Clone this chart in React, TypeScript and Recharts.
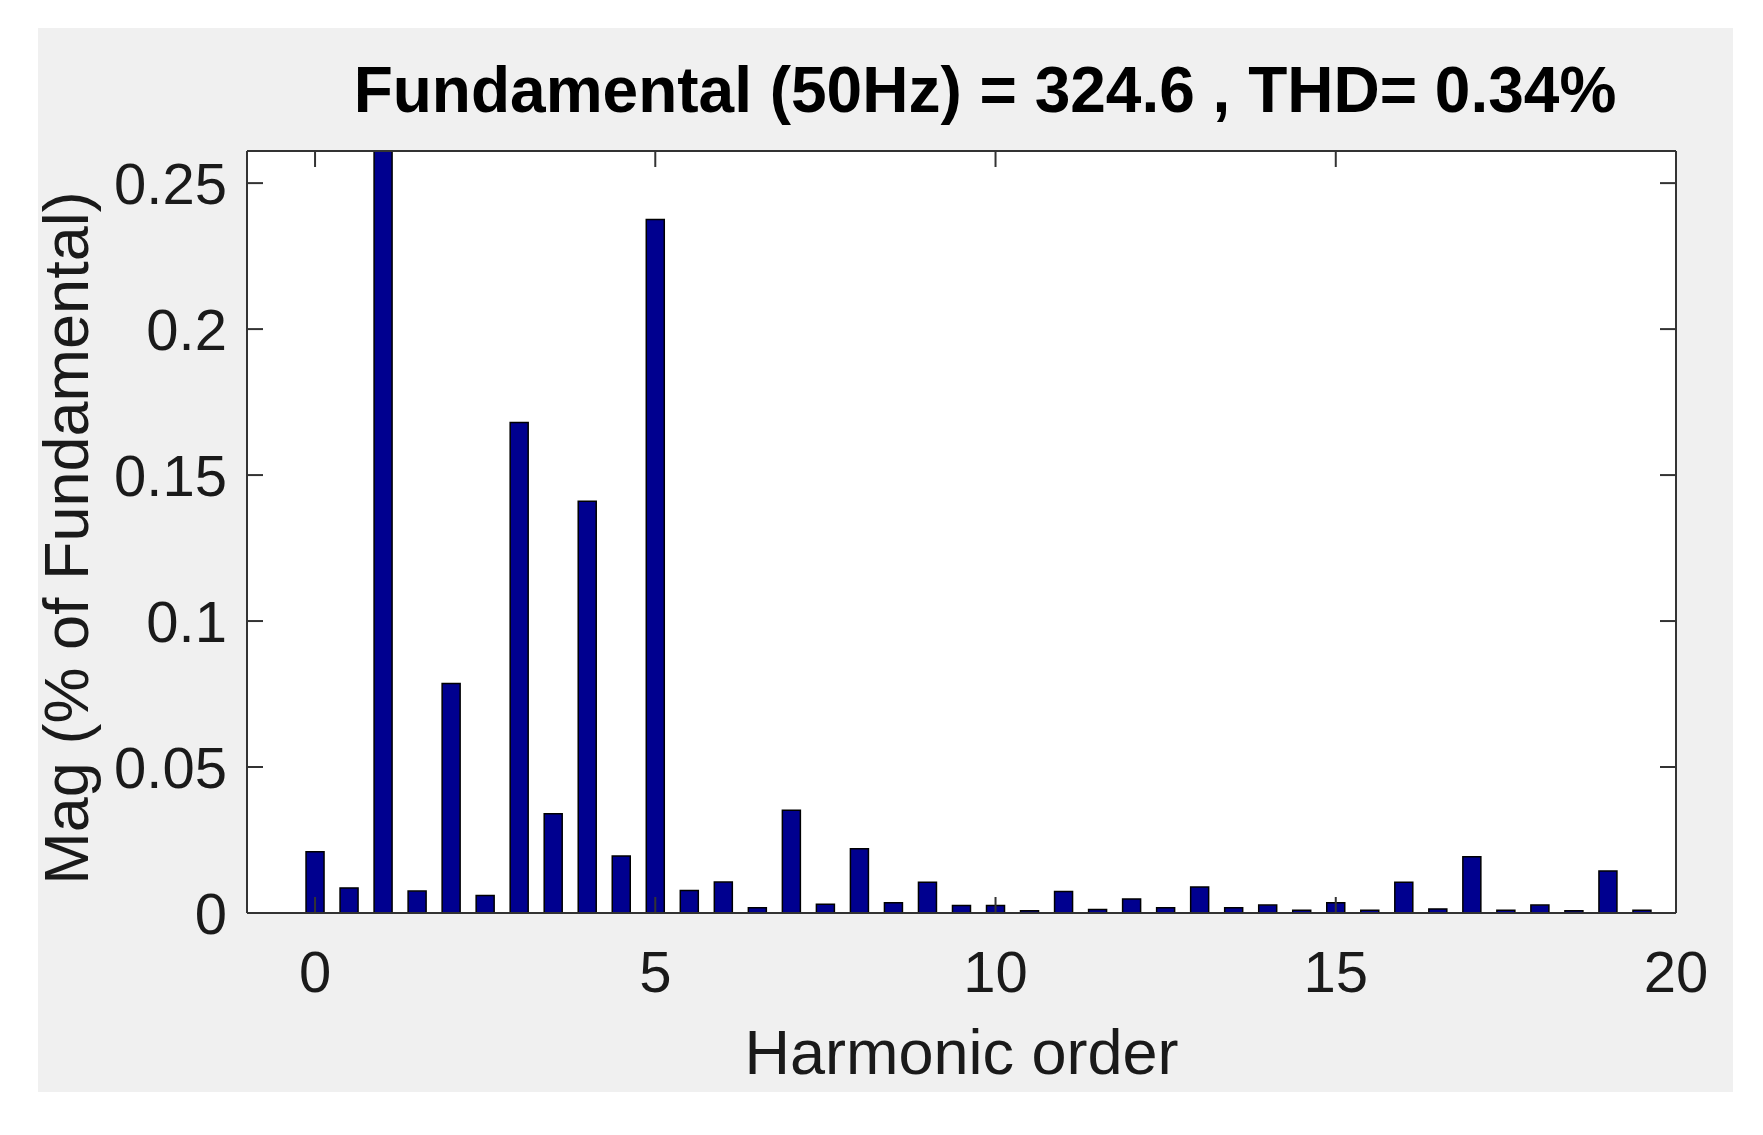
import { Bar, BarChart, CartesianGrid, XAxis, YAxis } from "recharts";

const harmonicOrder = [
  0, 0.5, 1, 1.5, 2, 2.5, 3, 3.5, 4, 4.5, 5, 5.5, 6, 6.5, 7, 7.5, 8, 8.5, 9, 9.5,
  10, 10.5, 11, 11.5, 12, 12.5, 13, 13.5, 14, 14.5, 15, 15.5, 16, 16.5, 17, 17.5,
  18, 18.5, 19, 19.5,
];

// % of fundamental; the fundamental itself (order 1) runs off the top of the axes
const magnitude = [
  0.021, 0.0086, 100, 0.0075, 0.0786, 0.006, 0.168, 0.034, 0.141, 0.0195,
  0.2375, 0.0077, 0.0106, 0.0018, 0.0352, 0.003, 0.022, 0.0035, 0.0105, 0.0026,
  0.0026, 0.0008, 0.0074, 0.0012, 0.0048, 0.0018, 0.0089, 0.0018, 0.0027, 0.0009,
  0.0035, 0.0009, 0.0105, 0.0014, 0.0193, 0.0009, 0.0027, 0.0008, 0.0144, 0.0009,
];

const xTicks = [0, 5, 10, 15, 20];
const yTicks = [0, 0.05, 0.1, 0.15, 0.2, 0.25];

const fundamentalHz = 50;
const fundamentalMag = 324.6;
const thd = 0.34;

const data = harmonicOrder.map((h, i) => ({ h, mag: magnitude[i] }));

const FONT = "'Liberation Sans', Arial, Helvetica, sans-serif";
const TEXT = "#1a1a1a";
const AXIS = "#333333";

const tickStyle = { fontSize: 58, fill: TEXT, fontFamily: FONT };

export default function App() {
  return (
    <div style={{ position: "relative", width: 1747, height: 1119, background: "#fff" }}>
      <div
        style={{
          position: "absolute",
          left: 30,
          top: 20,
          width: 1695,
          height: 1064,
          background: "#f0f0f0",
        }}
      />
      <svg
        width={1747}
        height={1119}
        style={{ position: "absolute", left: 0, top: 0, pointerEvents: "none" }}
      >
        <text
          x={977}
          y={104}
          textAnchor="middle"
          fontSize={64}
          fontWeight="bold"
          fontFamily={FONT}
          fill="#000"
        >
          {`Fundamental (${fundamentalHz}Hz) = ${fundamentalMag} , THD= ${thd}%`}
        </text>
      </svg>
      <div style={{ position: "absolute", left: 0, top: 0 }}>
        <BarChart
          width={1747}
          height={1119}
          data={data}
          margin={{ top: 142, right: 78, bottom: 114, left: 139 }}
        >
          <CartesianGrid horizontal={false} vertical={false} fill="#ffffff" />
          <XAxis
            dataKey="h"
            type="number"
            domain={[-1, 20]}
            ticks={xTicks}
            interval={0}
            allowDataOverflow
            height={100}
            tickSize={-16}
            tickMargin={54}
            tick={tickStyle}
            stroke={AXIS}
            strokeWidth={2}
            label={{
              content: ({ viewBox }: any) => (
                <text
                  x={viewBox.x + viewBox.width / 2}
                  y={1066}
                  textAnchor="middle"
                  fontSize={63}
                  fontFamily={FONT}
                  fill={TEXT}
                >
                  Harmonic order
                </text>
              ),
            }}
          />
          <XAxis
            xAxisId="top"
            dataKey="h"
            type="number"
            orientation="top"
            domain={[-1, 20]}
            ticks={xTicks}
            interval={0}
            allowDataOverflow
            height={1}
            tickSize={-16}
            tickFormatter={() => ""}
            stroke={AXIS}
            strokeWidth={2}
          />
          <YAxis
            type="number"
            domain={[0, 0.261]}
            ticks={yTicks}
            interval={0}
            allowDataOverflow
            width={100}
            tickSize={-16}
            tickMargin={36}
            tick={tickStyle}
            stroke={AXIS}
            strokeWidth={2}
            label={{
              content: () => (
                <text
                  x={80}
                  y={530}
                  transform="rotate(-90 80 530)"
                  textAnchor="middle"
                  fontSize={63}
                  fontFamily={FONT}
                  fill={TEXT}
                >
                  Mag (% of Fundamental)
                </text>
              ),
            }}
          />
          <YAxis
            yAxisId="right"
            orientation="right"
            type="number"
            domain={[0, 0.261]}
            ticks={yTicks}
            interval={0}
            allowDataOverflow
            width={1}
            tickSize={-16}
            tickFormatter={() => ""}
            stroke={AXIS}
            strokeWidth={2}
          />
          <Bar
            dataKey="mag"
            fill="#00008f"
            stroke="#000000"
            strokeWidth={1.5}
            barSize={18}
            isAnimationActive={false}
          />
        </BarChart>
      </div>
    </div>
  );
}
